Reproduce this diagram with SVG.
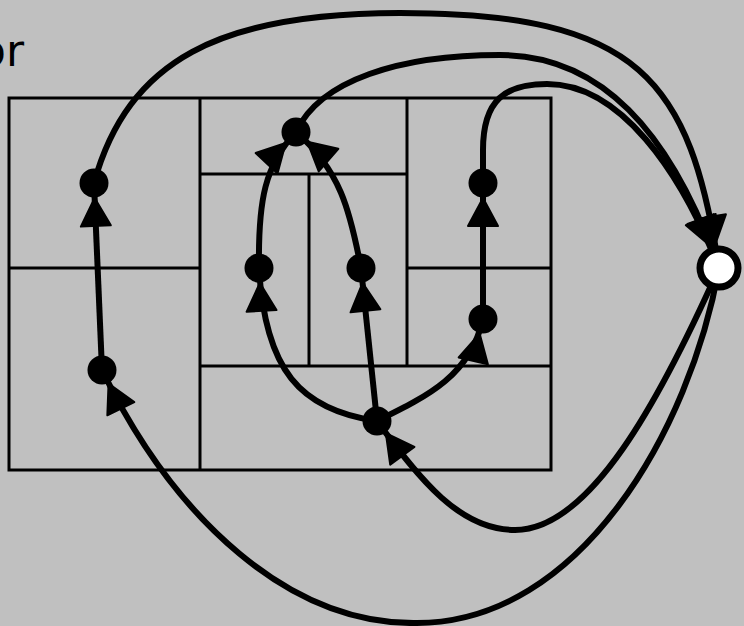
<svg xmlns="http://www.w3.org/2000/svg" width="744" height="626" viewBox="0 0 744 626">
<style>
.grid{fill:none;stroke:#000;stroke-width:3}
.e{fill:none;stroke:#000;stroke-width:6}
.n{fill:#000}
.z{fill:#fff;stroke:#000;stroke-width:7}
.lbl{font-family:"DejaVu Sans",sans-serif;font-size:44px;fill:#000}
</style>
<defs>
<marker id="arr" markerUnits="userSpaceOnUse" orient="auto" refX="15" refY="0" markerWidth="60" markerHeight="40" overflow="visible">
<path d="M-28,-15 L0,0 L-28,15 Z" fill="#000" stroke="#000" stroke-width="2" stroke-linejoin="round"/>
</marker>
<marker id="arrZ" markerUnits="userSpaceOnUse" orient="auto" refX="24" refY="0" markerWidth="60" markerHeight="40" overflow="visible">
<path d="M-28,-15 L0,0 L-28,15 Z" fill="#000" stroke="#000" stroke-width="2" stroke-linejoin="round"/>
</marker>
</defs>
<rect width="744" height="626" fill="#c0c0c0"/>
<text class="lbl" x="24" y="66" text-anchor="end">or</text>
<g id="grid" class="grid">
<rect x="9" y="98" width="542" height="372"/>
<path d="M200,98 V470 M9,268 H200 M200,174 H407 M407,98 V366 M309,174 V366 M200,366 H551 M407,268 H551"/>
</g>
<g id="connectors" class="e">
<path d="M102,370 L94,183" marker-end="url(#arr)"/>
<path d="M94,183 C128,60 220,13 400,13 C640,13 690,80 719,268" marker-end="url(#arrZ)"/>
<path d="M259,268 C258,200 265,165 296,132" marker-end="url(#arr)"/>
<path d="M361,268 C350,210 340,170 296,132" marker-end="url(#arr)"/>
<path d="M296,132 C320,80 400,55 500,55 C600,55 670,130 719,268" marker-end="url(#arrZ)"/>
<path d="M483,183 L483,150 C483,100 505,84 547,84 C620,84 680,170 719,268" marker-end="url(#arrZ)"/>
<path d="M483,319 L483,183" marker-end="url(#arr)"/>
<path d="M377,421 C300,410 265,370 259,268" marker-end="url(#arr)"/>
<path d="M377,421 L361,268" marker-end="url(#arr)"/>
<path d="M377,421 C430,395 470,375 483,319" marker-end="url(#arr)"/>
<path d="M719,268 C660,400 590,530 515,530 C460,530 420,480 377,421" marker-end="url(#arr)"/>
<path d="M719,268 C690,430 580,623 417,623 C290,625 175,520 102,370" marker-end="url(#arr)"/>
</g>
<g id="nA"><circle class="n" cx="94" cy="183" r="14.5"/></g>
<g id="nB"><circle class="n" cx="102" cy="370" r="14.5"/></g>
<g id="nC"><circle class="n" cx="296" cy="132" r="14.5"/></g>
<g id="nD"><circle class="n" cx="259" cy="268" r="14.5"/></g>
<g id="nE"><circle class="n" cx="361" cy="268" r="14.5"/></g>
<g id="nF"><circle class="n" cx="483" cy="183" r="14.5"/></g>
<g id="nG"><circle class="n" cx="483" cy="319" r="14.5"/></g>
<g id="nH"><circle class="n" cx="377" cy="421" r="14.5"/></g>
<g id="nZ"><circle class="z" cx="719" cy="268" r="19"/></g>
</svg>
